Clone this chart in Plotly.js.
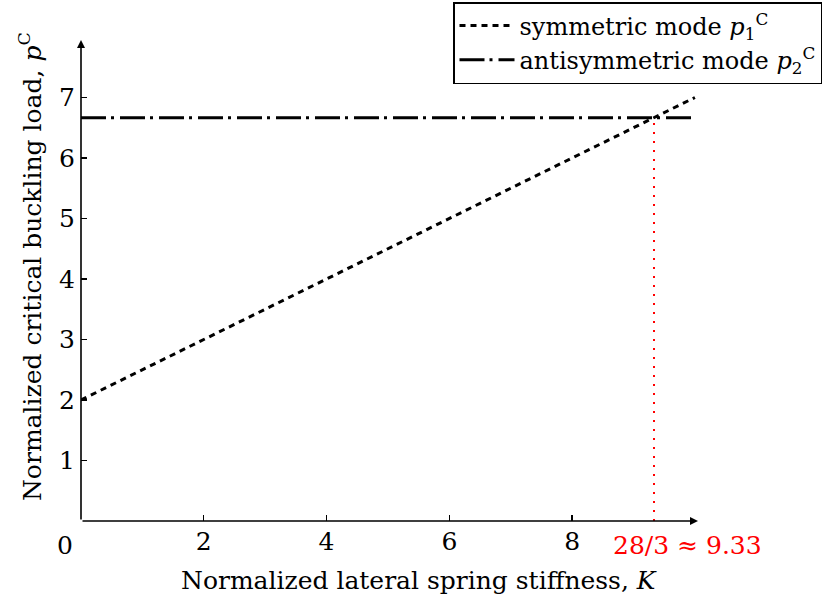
<!DOCTYPE html>
<html>
<head>
<meta charset="utf-8">
<script src="https://cdn.plot.ly/plotly-3.0.1.min.js"></script>
<style>html,body{margin:0;padding:0;background:#fff;}#chart{width:830px;height:599px;}</style>
</head>
<body>
<div id="chart"></div>
<script>
// Data
const stiffnessK = [0, 1, 2, 3, 4, 5, 6, 7, 8, 9, 10];
const symmetricLoad = [2, 2.5, 3, 3.5, 4, 4.5, 5, 5.5, 6, 6.5, 7];
const antisymK = [0, 10];
const antisymLoad = [20/3, 20/3];
const crossK = 28/3;
const crossLoad = 20/3;
const xTickVals = [2, 4, 6, 8];
const yTickVals = [1, 2, 3, 4, 5, 6, 7];
const crossLabel = '28/3 \u2248 9.33';

const FONT = 'DejaVu Serif, Liberation Serif, serif';
const FS = 25;

const W = 830, H = 599;
const ML = 81, MR = 132, MT = 40, MB = 78;
const PW = W - ML - MR, PH = H - MT - MB;
const px2paperX = px => (px - ML) / PW;
const px2paperY = py => (H - MB - py) / PH;

const traces = [
  {x: stiffnessK, y: symmetricLoad, mode: 'lines', name: 'symmetric mode <i>p</i><sub>1</sub><sup>C</sup>',
   line: {color: '#000', width: 3, dash: '6px,5px'}},
  {x: antisymK, y: antisymLoad, mode: 'lines', name: 'antisymmetric mode <i>p</i><sub>2</sub><sup>C</sup>',
   line: {color: '#000', width: 3, dash: '25px,5px,3px,6px'}},
  {x: [crossK, crossK], y: [0, crossLoad], mode: 'lines', showlegend: false,
   line: {color: '#ff0000', width: 2, dash: '2px,7px'}}
];

const xMax = 10.05, yMax = 7.95;
const layout = {
  width: W, height: H,
  margin: {l: ML, r: MR, t: MT, b: MB, autoexpand: false},
  paper_bgcolor: '#fff', plot_bgcolor: '#fff',
  font: {family: FONT, size: FS, color: '#000'},
  showlegend: true,
  legend: {x: px2paperX(453), y: px2paperY(2),
           xanchor: 'left', yanchor: 'top', bordercolor: '#000', borderwidth: 1.5,
           bgcolor: '#fff', font: {family: FONT, size: 24}, tracegroupgap: 0, itemwidth: 55},
  xaxis: {range: [0, xMax], showgrid: false, zeroline: false, showline: false, automargin: false,
          tickmode: 'array', tickvals: xTickVals, ticks: 'inside', ticklen: 6, tickwidth: 1.3,
          tickcolor: '#000', tickfont: {family: FONT, size: FS}, ticklabelstandoff: 3},
  yaxis: {range: [0, yMax], showgrid: false, zeroline: false, showline: false, automargin: false,
          tickmode: 'array', tickvals: yTickVals, ticks: 'inside', ticklen: 6, tickwidth: 1.3,
          tickcolor: '#000', tickfont: {family: FONT, size: FS}, ticklabelstandoff: 5},
  annotations: [
    {x: xMax, y: 0, ax: 0, ay: 0, xref: 'x', yref: 'y', axref: 'x', ayref: 'y', text: '',
     showarrow: true, arrowhead: 2, arrowsize: 1, arrowwidth: 1.6, arrowcolor: '#000'},
    {x: 0, y: yMax, ax: 0, ay: 0, xref: 'x', yref: 'y', axref: 'x', ayref: 'y', text: '',
     showarrow: true, arrowhead: 2, arrowsize: 1, arrowwidth: 1.6, arrowcolor: '#000'},
    {x: 0, y: 0, xref: 'x', yref: 'y', text: '0', showarrow: false, xanchor: 'center', yanchor: 'middle',
     xshift: -16, yshift: -24, font: {family: FONT, size: FS}},
    {x: crossK, y: 0, xref: 'x', yref: 'y', text: crossLabel, showarrow: false, xanchor: 'center',
     yanchor: 'middle', xshift: 33, yshift: -24, font: {family: FONT, size: FS, color: '#ff0000'}},
    {x: px2paperX(419), y: px2paperY(580), xref: 'paper', yref: 'paper', text: 'Normalized lateral spring stiffness, <i>K</i>',
     showarrow: false, xanchor: 'center', yanchor: 'middle', font: {family: FONT, size: FS}},
    {x: px2paperX(30), y: px2paperY(267), xref: 'paper', yref: 'paper', text: 'Normalized critical buckling load, <i>p</i><sup>C</sup>',
     showarrow: false, textangle: -90, xanchor: 'center', yanchor: 'middle', font: {family: FONT, size: FS}}
  ]
};

Plotly.newPlot('chart', traces, layout, {displayModeBar: false, staticPlot: true});
</script>
</body>
</html>
